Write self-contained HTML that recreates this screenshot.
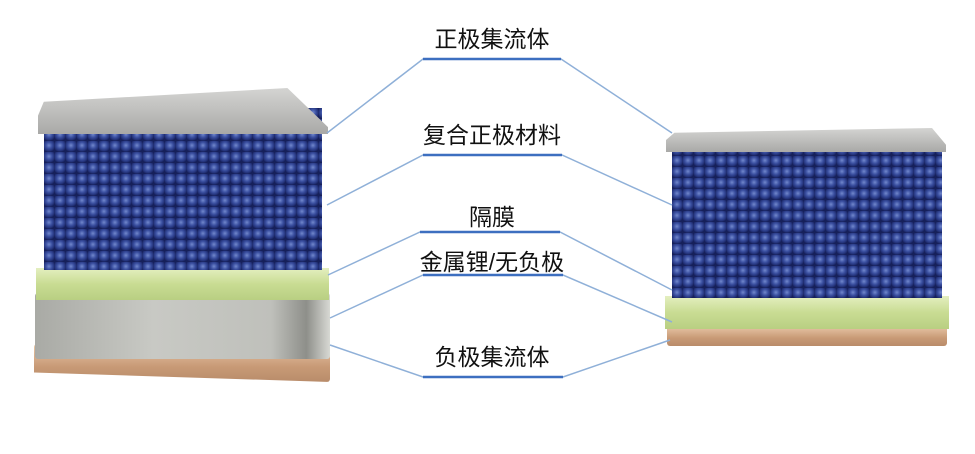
<!DOCTYPE html>
<html><head><meta charset="utf-8"><style>
body{margin:0;width:975px;height:454px;background:#fff;position:relative;overflow:hidden;font-family:"Liberation Sans","Noto Sans CJK SC",sans-serif}
.a{position:absolute}
.balls{background:#1d2a6a radial-gradient(circle at 45% 40%,#7288cc 0,#3a4fa0 35%,#24337a 60%,#16205a 75%);background-size:11px 11px}
.green{background:linear-gradient(180deg,#e4efc0,#c9dc93 50%,#b9cf82);}
.plate{background:linear-gradient(180deg,#d4d4d2,#a9a9a7);}
.copper{background:linear-gradient(180deg,#e8c7a8,#c89a76 60%,#b98c6a);}
.t{position:absolute;font-size:23px;color:#111;text-align:center;width:300px;left:342px}
</style></head><body>
<!-- left stack -->
<div class="a copper" style="left:34px;top:344px;width:296px;height:38px;border-radius:3px;clip-path:polygon(0 0,100% 0,100% 100%,0 75%)"></div>
<div class="a" style="left:35px;top:293px;width:295px;height:66px;background:linear-gradient(90deg,#a9aaa5,#c8c9c4 40%,#bfc0bb 80%,#8e8f8a 92%,#d8d9d4);border-radius:3px"></div>
<div class="a green" style="left:36px;top:268px;width:293px;height:32px"></div>
<div class="a balls" style="left:44px;top:108px;width:278px;height:162px"></div>
<div class="a plate" style="left:38px;top:88px;width:290px;height:46px;clip-path:polygon(0 60%,2% 30%,86% 0,100% 85%,100% 100%,0 100%)"></div>
<!-- right stack -->
<div class="a copper" style="left:667px;top:326px;width:280px;height:20px;border-radius:3px"></div>
<div class="a green" style="left:665px;top:296px;width:284px;height:33px"></div>
<div class="a balls" style="left:672px;top:145px;width:270px;height:153px"></div>
<div class="a plate" style="left:666px;top:128px;width:280px;height:24px;clip-path:polygon(0 50%,3% 20%,95% 0,100% 70%,100% 100%,0 100%)"></div>
<svg class="a" style="left:0;top:0" width="975" height="454">
<g stroke="#8fb0d8" stroke-width="1.5" fill="none">
<polyline points="327,133 423,59 561,59 672,133"/>
<polyline points="327,205 423,155 562,155 672,205"/>
<polyline points="328,275 420,232 560,232 672,290"/>
<polyline points="330,318 423,275 563,275 672,322"/>
<polyline points="330,345 423,377 563,377 670,340"/>
</g>
<g stroke="#3d6fc0" stroke-width="2.5">
<line x1="423" y1="59" x2="561" y2="59"/><line x1="423" y1="155" x2="562" y2="155"/>
<line x1="420" y1="232" x2="560" y2="232"/><line x1="423" y1="275" x2="563" y2="275"/>
<line x1="423" y1="377" x2="563" y2="377"/></g>
</svg>
<div class="t" style="top:20px">正极集流体</div>
<div class="t" style="top:116px">复合正极材料</div>
<div class="t" style="top:198px">隔膜</div>
<div class="t" style="top:243px">金属锂/无负极</div>
<div class="t" style="top:338px">负极集流体</div>
</body></html>
